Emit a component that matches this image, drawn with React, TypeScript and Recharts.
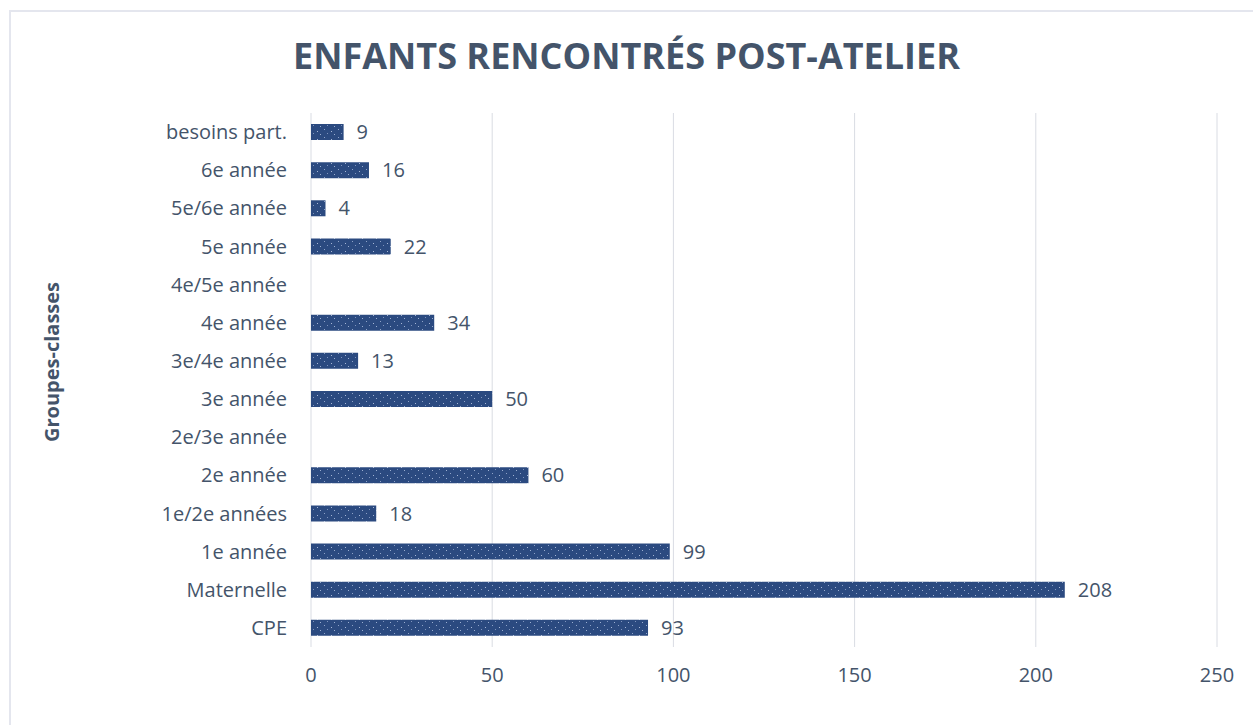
import React from 'react';
import { BarChart, Bar, XAxis, YAxis, CartesianGrid, LabelList } from 'recharts';

const groupes = [
  'besoins part.',
  '6e année',
  '5e/6e année',
  '5e année',
  '4e/5e année',
  '4e année',
  '3e/4e année',
  '3e année',
  '2e/3e année',
  '2e année',
  '1e/2e années',
  '1e année',
  'Maternelle',
  'CPE',
];
const enfants = [9, 16, 4, 22, null, 34, 13, 50, null, 60, 18, 99, 208, 93];
const xTicks = [0, 50, 100, 150, 200, 250];

const data = groupes.map((g, i) => ({ groupe: g, enfants: enfants[i] }));

const textColor = '#44546A';
const font = '"Open Sans", sans-serif';

export default function App() {
  return (
    <div
      style={{
        position: 'absolute',
        left: 0,
        top: 0,
        width: 1253,
        height: 725,
        background: '#fff',
        fontFamily: font,
        overflow: 'hidden',
      }}
    >
      <div
        style={{
          position: 'absolute',
          left: 9,
          top: 10,
          width: 1260,
          height: 740,
          borderTop: '2px solid #E4E6EE',
          borderLeft: '2px solid #E4E6EE',
        }}
      />
      <div
        style={{
          position: 'absolute',
          left: 0,
          width: 1253,
          top: 33,
          textAlign: 'center',
          fontSize: 36,
          fontWeight: 700,
          color: textColor,
          lineHeight: '46px',
        }}
      >
        ENFANTS RENCONTRÉS POST-ATELIER
      </div>
      <div
        style={{
          position: 'absolute',
          left: 52 - 100,
          top: 362 - 14,
          width: 200,
          height: 28,
          lineHeight: '28px',
          textAlign: 'center',
          transform: 'rotate(-90deg)',
          fontSize: 20,
          fontWeight: 700,
          color: textColor,
        }}
      >
        Groupes-classes
      </div>
      <div style={{ position: 'absolute', left: 0, top: 0 }}>
        <BarChart
          width={1253}
          height={725}
          data={data}
          layout="vertical"
          margin={{ top: 113, right: 36, bottom: 0, left: 0 }}
        >
          <defs>
            <pattern id="speckle" width="14" height="8" patternUnits="userSpaceOnUse">
              <rect width="14" height="8" fill="#2B4A80" />
              <rect x="2" y="1" width="1" height="1" fill="#8FA3C8" />
              <rect x="9" y="3" width="1" height="1" fill="#A7B7D6" />
              <rect x="5" y="5" width="1" height="1" fill="#7E93BD" />
              <rect x="12" y="6" width="1" height="1" fill="#9AAED0" />
            </pattern>
          </defs>
          <CartesianGrid horizontal={false} stroke="#D9DCE3" />
          <XAxis
            type="number"
            domain={[0, 250]}
            ticks={xTicks}
            axisLine={false}
            tickLine={false}
            tickMargin={15}
            height={78}
            tick={{ fill: textColor, fontSize: 20, fontFamily: font }}
          />
          <YAxis
            type="category"
            dataKey="groupe"
            width={311}
            axisLine={false}
            tickLine={false}
            tickMargin={18}
            interval={0}
            tick={{ fill: textColor, fontSize: 20, fontFamily: font }}
          />
          <Bar dataKey="enfants" fill="url(#speckle)" barSize={16} isAnimationActive={false}>
            <LabelList
              dataKey="enfants"
              position="right"
              offset={13}
              fill={textColor}
              fontSize={20}
              fontFamily={font}
            />
          </Bar>
        </BarChart>
      </div>
    </div>
  );
}
